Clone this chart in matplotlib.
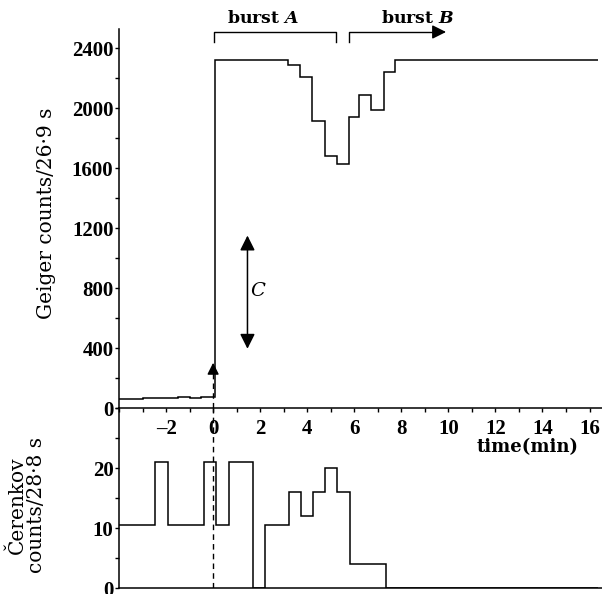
import numpy as np
import matplotlib
matplotlib.use('Agg')
from matplotlib import pyplot as plt
from matplotlib.ticker import MultipleLocator

plt.rcParams['mathtext.fontset'] = 'custom'
plt.rcParams['mathtext.rm'] = 'DejaVu Serif:bold'
plt.rcParams['mathtext.it'] = 'DejaVu Serif:italic:bold'

# Geiger counts per 26.9 s (step edges in minutes)
geiger_edges = [-4.0, -3.0, -2.0, -1.5, -1.0, -0.5, 0.08, 3.17, 3.69, 4.22,
                4.74, 5.28, 5.77, 6.20, 6.72, 7.25, 7.75, 16.35]
geiger_counts = [62, 66, 70, 74, 70, 76, 2320, 2290, 2210, 1915, 1680,
                 1625, 1940, 2085, 1990, 2240, 2320]

# Cerenkov counts per 28.8 s
cer_edges = [-4.0, -2.46, -1.92, -0.39, 0.13, 0.66, 1.68, 2.20, 3.23, 3.73,
             4.25, 4.76, 5.25, 5.80, 7.33, 16.35]
cer_counts = [10.5, 21, 10.5, 21, 10.5, 21, 0, 10.5, 16, 12, 16, 20, 16, 4, 0]

xticks = [-2, 0, 2, 4, 6, 8, 10, 12, 14, 16]
geiger_yticks = [0, 400, 800, 1200, 1600, 2000, 2400]
cer_yticks = [0, 10, 20]

burst_a = (0.03, 5.24)
burst_b = (5.77, 9.9)

serif = 'DejaVu Serif'
tickfont = dict(family='Liberation Serif', weight='bold', size=15)

fig = plt.figure(figsize=(6.02, 5.94), dpi=100)
ax2 = fig.add_axes([0.1977, 0.0101, 0.8023, 0.3030])
ax1 = fig.add_axes([0.1977, 0.3131, 0.8023, 0.6381])
ax1.patch.set_alpha(0)
ax2.patch.set_alpha(0)

lw = 1.1
ax1.stairs(geiger_counts, geiger_edges, baseline=None, color='k', lw=lw)
ax2.stairs(cer_counts, cer_edges, baseline=None, color='k', lw=lw)

for ax in (ax1, ax2):
    ax.set_xlim(-4.0, 16.53)
    for s in ('top', 'right'):
        ax.spines[s].set_visible(False)
    ax.spines['left'].set_linewidth(1.1)
    ax.spines['bottom'].set_linewidth(1.1)
    ax.tick_params(which='both', direction='out', length=3, width=1, pad=1)
ax1.set_ylim(0, 2527)
ax2.set_ylim(0, 30)

ax1.set_xticks(xticks)
ax1.xaxis.set_minor_locator(MultipleLocator(1))
ax1.tick_params(axis='x', which='both', pad=5)
ax1.set_xticklabels([str(v).replace('-', '\u2013') for v in xticks], fontdict=tickfont)
ax1.set_yticks(geiger_yticks)
ax1.yaxis.set_minor_locator(MultipleLocator(200))
ax1.set_yticklabels([str(v) for v in geiger_yticks], fontdict=tickfont)

ax2.tick_params(axis='x', which='both', bottom=False, labelbottom=False)
ax2.set_yticks(cer_yticks)
ax2.yaxis.set_minor_locator(MultipleLocator(5))
ax2.set_yticklabels([str(v) for v in cer_yticks], fontdict=tickfont)

# dashed marker at t = 0
ax2.axvline(0, color='k', lw=1, ls=(0, (4, 3)))
ax1.plot([0, 0], [0, 290], color='k', lw=1, ls=(0, (4, 3)), clip_on=False)
ax1.annotate('', xy=(0, 320), xytext=(0, 260),
             arrowprops=dict(arrowstyle='-|>,head_length=0.5,head_width=0.25',
                             color='k', lw=1, mutation_scale=14))

# double arrow C
ax1.annotate('', xy=(1.46, 1150), xytext=(1.46, 395),
             arrowprops=dict(arrowstyle='<|-|>,head_length=0.6,head_width=0.3',
                             color='k', lw=1.1, mutation_scale=15,
                             shrinkA=0, shrinkB=0))
ax1.text(1.9, 780, 'C', fontstyle='italic', family=serif, fontsize=14,
         ha='center', va='center')

# burst brackets
br_top, br_bot = 2507, 2440
ax1.plot([burst_a[0], burst_a[0], burst_a[1], burst_a[1]],
         [br_bot, br_top, br_top, br_bot], color='k', lw=1, clip_on=False)
ax1.plot([burst_b[0], burst_b[0], burst_b[1] - 0.3],
         [br_bot, br_top, br_top], color='k', lw=1, clip_on=False)
ax1.annotate('', xy=(burst_b[1], br_top), xytext=(burst_b[1] - 0.5, br_top),
             arrowprops=dict(arrowstyle='-|>,head_length=0.6,head_width=0.3',
                             color='k', lw=1, mutation_scale=14,
                             shrinkA=0, shrinkB=0),
             annotation_clip=False)
ax1.text(2.12, 2597, r'burst $A$', family=serif, weight='bold', fontsize=12.5,
         ha='center', va='center', clip_on=False)
ax1.text(8.69, 2597, r'burst $B$', family=serif, weight='bold', fontsize=12.5,
         ha='center', va='center', clip_on=False)

# labels
fig.text(47 / 602, 1 - 213 / 594, 'Geiger counts/26\u00b79 s', rotation=90,
         family=serif, fontsize=14.5, ha='center', va='center')
fig.text(27 / 602, 1 - 505 / 594, '\u010cerenkov\ncounts/28\u00b78 s', rotation=90,
         family=serif, fontsize=14.5, ha='center', va='center',
         multialignment='center', linespacing=1.0)
fig.text(528 / 602, 1 - 447 / 594, 'time(min)', family=serif, weight='bold',
         fontsize=13, ha='center', va='center')

fig.savefig('out.png', dpi=100)
